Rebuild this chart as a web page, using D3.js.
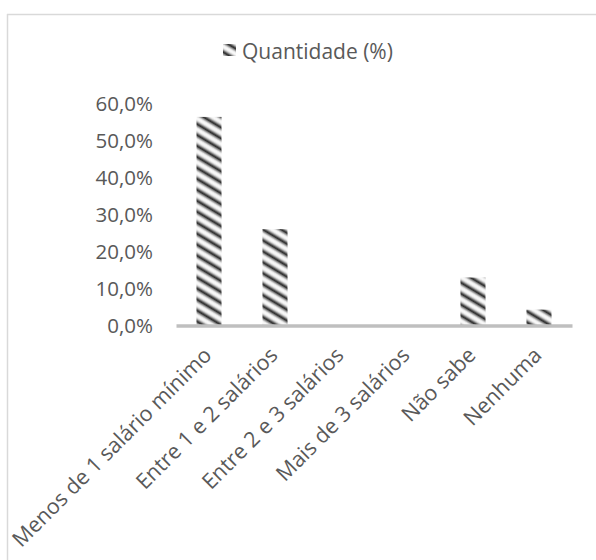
<!DOCTYPE html>
<html>
<head>
<meta charset="utf-8">
<script src="https://cdn.jsdelivr.net/npm/d3@7"></script>
<style>
  html, body { margin: 0; padding: 0; background: #fff; }
  svg { display: block; }
  text { font-family: "Open Sans", "Noto Sans", sans-serif; fill: #595959; }
</style>
</head>
<body>
<svg id="chart" width="596" height="560"></svg>
<script>
// Renda familiar: share of respondents per income bracket
const categories = [
  "Menos de 1 salário mínimo",
  "Entre 1 e 2 salários",
  "Entre 2 e 3 salários",
  "Mais de 3 salários",
  "Não sabe",
  "Nenhuma"
];
const values = [56.5, 26.1, 0, 0, 13.0, 4.3];
const yTicks = [0, 10, 20, 30, 40, 50, 60];
const seriesName = "Quantidade (%)";

const svg = d3.select("#chart");
const W = 596, H = 560;

// Outer frame (only top and left edges are visible in the canvas)
svg.append("rect").attr("width", W).attr("height", H).attr("fill", "#fff");
svg.append("line").attr("x1", 7).attr("x2", W).attr("y1", 14.5).attr("y2", 14.5)
  .attr("stroke", "#d9d9d9").attr("stroke-width", 1.5);
svg.append("line").attr("x1", 7.5).attr("x2", 7.5).attr("y1", 14).attr("y2", H)
  .attr("stroke", "#d9d9d9").attr("stroke-width", 1.5);

// Diagonal stripe fill with soft edges
const defs = svg.append("defs");
const grad = defs.append("linearGradient")
  .attr("id", "stripeGrad").attr("x1", 0).attr("y1", 0).attr("x2", 0).attr("y2", 1);
[[0, "#ffffff"], [0.2, "#e6e6e6"], [0.4, "#6e6e6e"], [0.52, "#1a1a1a"],
 [0.66, "#808080"], [0.84, "#e4e4e4"], [1, "#ffffff"]]
  .forEach(([o, c]) => grad.append("stop").attr("offset", o).attr("stop-color", c));
const period = 9.4;
defs.append("pattern")
  .attr("id", "stripes")
  .attr("patternUnits", "userSpaceOnUse")
  .attr("width", 20).attr("height", period)
  .attr("patternTransform", "rotate(31)")
  .append("rect")
  .attr("width", 20).attr("height", period)
  .attr("fill", "url(#stripeGrad)");

// Scales
const plotLeft = 176, plotRight = 572, plotBottom = 325.5, plotTop = 104;
const x = d3.scaleBand()
  .domain(categories)
  .range([plotLeft, plotRight])
  .paddingInner(0.621)
  .paddingOuter(0.3106);
const y = d3.scaleLinear().domain([0, 60]).range([plotBottom, plotTop]);

const fmt = v => v.toFixed(1).replace(".", ",") + "%";

// Y axis labels
const yAxis = svg.append("g")
  .attr("transform", `translate(${plotLeft},0)`)
  .call(d3.axisLeft(y).tickValues(yTicks).tickFormat(fmt).tickSize(0).tickPadding(23));
yAxis.select(".domain").remove();
yAxis.selectAll("text")
  .style("font-family", "'Open Sans', sans-serif")
  .style("font-size", "20.5px")
  .attr("fill", "#595959");

// Bars
svg.append("g").selectAll("rect")
  .data(values)
  .join("rect")
  .attr("x", (d, i) => x(categories[i]))
  .attr("width", x.bandwidth())
  .attr("y", d => y(d))
  .attr("height", d => y(0) - y(d))
  .attr("fill", "url(#stripes)");

// X axis with rotated labels
const xAxis = svg.append("g")
  .attr("transform", `translate(0,${plotBottom})`)
  .call(d3.axisBottom(x).tickSize(0).tickPadding(0));
xAxis.select(".domain")
  .attr("stroke", "#bfbfbf")
  .attr("stroke-width", 3.5);
xAxis.selectAll("text")
  .style("font-family", "'Open Sans', sans-serif")
  .style("font-size", "21.5px")
  .attr("fill", "#595959")
  .attr("text-anchor", "end")
  .attr("dy", null)
  .attr("y", 0)
  .attr("transform", "translate(4,31) rotate(-45)");

// Legend
const legend = svg.append("g");
legend.append("rect")
  .attr("x", 223).attr("y", 44).attr("width", 13).attr("height", 12)
  .attr("fill", "url(#stripes)");
legend.append("text")
  .attr("x", 242).attr("y", 58.5)
  .style("font-size", "21px")
  .text(seriesName);
</script>
</body>
</html>
